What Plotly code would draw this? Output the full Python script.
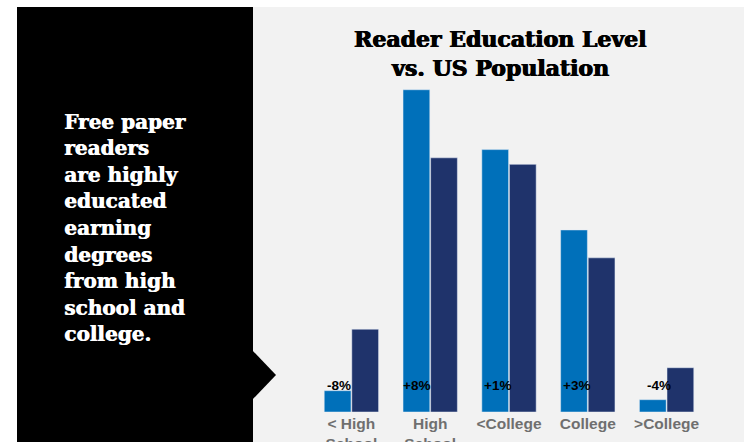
import plotly.graph_objects as go

# ---- data ----
categories = ["< High<br>School", "High<br>School", "<College", "College", ">College"]
readers = [2.6, 39.3, 32.0, 22.2, 1.5]
us_population = [10.1, 31.0, 30.2, 18.8, 5.4]
diff_labels = ["-8%", "+8%", "+1%", "+3%", "-4%"]
title_lines = ["Reader Education Level", "vs. US Population"]
side_lines = ["Free paper", "readers", "are highly", "educated", "earning",
              "degrees", "from high", "school and", "college."]

# ---- layout geometry (pixels) ----
W, H = 747, 442
ML, MR, MT, MB = 312, 41, 80, 30
PW, PH = W - ML - MR, H - MT - MB
Y_MAX = PH / 8.2


def px(x):
    return (x - ML) / PW


def py(y):
    return (H - MB - y) / PH


LIGHT = "#0070BA"
DARK = "#1F336B"
GRAY_BG = "#F2F2F2"

fig = go.Figure()
fig.add_trace(go.Bar(x=categories, y=readers, marker_color=LIGHT, name="Readers"))
fig.add_trace(go.Bar(x=categories, y=us_population, marker_color=DARK, name="US Population"))

shapes = [
    dict(type="rect", xref="paper", yref="paper", x0=px(253), x1=px(744),
         y0=py(450), y1=py(7), fillcolor=GRAY_BG, line_width=0, layer="below"),
    dict(type="rect", xref="paper", yref="paper", x0=px(17), x1=px(253),
         y0=py(450), y1=py(7), fillcolor="#000000", line_width=0, layer="below"),
    dict(type="path", xref="paper", yref="paper",
         path=f"M {px(252)} {py(350)} L {px(276)} {py(375)} L {px(252)} {py(400)} Z",
         fillcolor="#000000", line_width=0, layer="below"),
]

annotations = []
title_font = dict(family="DejaVu Serif", size=22, color="#000000", weight="bold",
                  shadow="0.7px 0 0 #000000, -0.4px 0 0 #000000")
for i, t in enumerate(title_lines):
    annotations.append(dict(text=t, xref="paper", yref="paper", x=px(499.5),
                            y=py(39 + 28.5 * i), xanchor="center", yanchor="middle",
                            showarrow=False, font=title_font))

side_font = dict(family="DejaVu Serif", size=20, color="#FFFFFF", weight="bold",
                 shadow="0.7px 0 0 #FFFFFF")
for i, t in enumerate(side_lines):
    annotations.append(dict(text=t, xref="paper", yref="paper", x=px(62),
                            y=py(121.5 + 26.6 * i), xanchor="left", yanchor="middle",
                            showarrow=False, font=side_font))

label_shift = [-26, -29, -27, -27, -22]
for c, lab, s in zip(categories, diff_labels, label_shift):
    annotations.append(dict(text=lab, x=c, y=3.2, xref="x", yref="y",
                            xanchor="left", yanchor="middle", xshift=s,
                            showarrow=False,
                            font=dict(family="Arial, Liberation Sans", size=13.5,
                                      color="#000000", weight="bold")))

fig.update_layout(
    width=W, height=H,
    margin=dict(l=ML, r=MR, t=MT, b=MB, pad=0, autoexpand=False),
    paper_bgcolor="#FFFFFF",
    plot_bgcolor="rgba(0,0,0,0)",
    barmode="group", bargap=0.30, bargroupgap=0.03,
    showlegend=False,
    shapes=shapes,
    annotations=annotations,
    xaxis=dict(showgrid=False, zeroline=False, showline=False, ticks="",
               automargin=False,
               tickfont=dict(family="Arial, Liberation Sans", size=15.5,
                             color="#6F6F6F", weight="bold")),
    yaxis=dict(range=[0, Y_MAX], visible=False, showgrid=False, zeroline=False,
               automargin=False),
)

fig.write_html("out.html")
